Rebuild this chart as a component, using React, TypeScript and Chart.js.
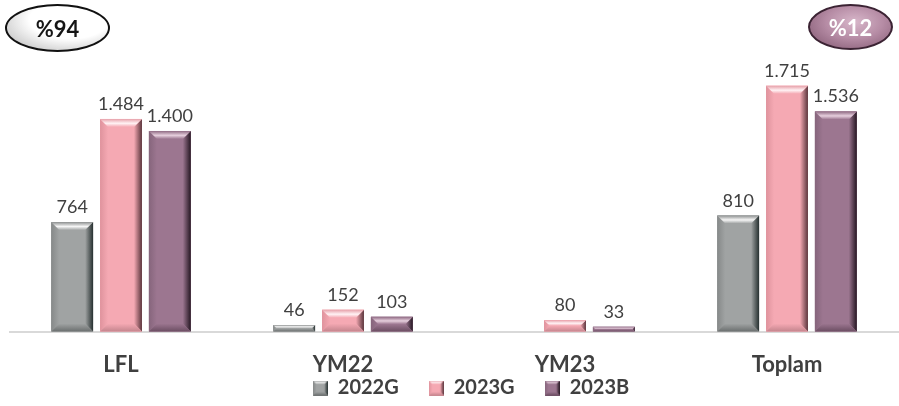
import React, { useEffect, useRef } from "react";
import { Chart, registerables } from "chart.js";
Chart.register(...registerables);

const categories = ["LFL", "YM22", "YM23", "Toplam"];
const seriesNames = ["2022G", "2023G", "2023B"];
const values2022G: (number | null)[] = [764, 46, null, 810];
const values2023G: (number | null)[] = [1484, 152, 80, 1715];
const values2023B: (number | null)[] = [1400, 103, 33, 1536];
const badgeLeftText = "%94";
const badgeRightText = "%12";

type Pal = { base: string; hi: string; topEdge: string; left: string; right: string; bottom: string };
const palettes: Pal[] = [
  { base: "#a0a3a3", hi: "#f6f6f6", topEdge: "#8e9191", left: "#868989", right: "#263030", bottom: "#6a6e6e" },
  { base: "#f5a9b3", hi: "#fff2f4", topEdge: "#e7a0a9", left: "#df939d", right: "#5a353c", bottom: "#c4848d" },
  { base: "#9c7690", hi: "#e6cfdd", topEdge: "#8e6982", left: "#86657c", right: "#251722", bottom: "#6b4d62" },
];

const FONT = "Lato, 'Open Sans', sans-serif";

function poly(ctx: CanvasRenderingContext2D, pts: number[][], fill: any) {
  ctx.beginPath();
  ctx.moveTo(pts[0][0], pts[0][1]);
  for (let i = 1; i < pts.length; i++) ctx.lineTo(pts[i][0], pts[i][1]);
  ctx.closePath();
  ctx.fillStyle = fill;
  ctx.fill();
}

function drawBevel(ctx: CanvasRenderingContext2D, L: number, T: number, R: number, B: number, p: Pal, bMax: number) {
  const w = R - L;
  const h = B - T;
  if (h <= 0 || w <= 0) return;
  const b = Math.max(1, Math.min(bMax, w / 4, h / 2));
  ctx.save();
  ctx.fillStyle = p.base;
  ctx.fillRect(L, T, w, h);
  let g = ctx.createLinearGradient(L, 0, L + b, 0);
  g.addColorStop(0, p.left);
  g.addColorStop(1, p.base);
  poly(ctx, [[L, T], [L + b, T + b], [L + b, B - b], [L, B]], g);
  g = ctx.createLinearGradient(R - b, 0, R, 0);
  g.addColorStop(0, p.base);
  g.addColorStop(1, p.right);
  poly(ctx, [[R, T], [R, B], [R - b, B - b], [R - b, T + b]], g);
  g = ctx.createLinearGradient(0, B - b, 0, B);
  g.addColorStop(0, p.base);
  g.addColorStop(1, p.bottom);
  poly(ctx, [[L, B], [L + b, B - b], [R - b, B - b], [R, B]], g);
  g = ctx.createLinearGradient(0, T, 0, T + b);
  g.addColorStop(0, p.topEdge);
  g.addColorStop(0.55, p.hi);
  g.addColorStop(1, p.base);
  poly(ctx, [[L, T], [R, T], [R - b, T + b], [L + b, T + b]], g);
  ctx.restore();
}

function fmt(v: number) {
  const s = String(Math.round(v));
  return s.replace(/\B(?=(\d{3})+(?!\d))/g, ".");
}

const bevelPlugin = {
  id: "bevel",
  afterDatasetsDraw(chart: any) {
    const ctx = chart.ctx;
    chart.data.datasets.forEach((ds: any, i: number) => {
      const meta = chart.getDatasetMeta(i);
      meta.data.forEach((el: any, j: number) => {
        const v = ds.data[j];
        if (v === null || v === undefined) return;
        const { x, y, base, width } = el.getProps(["x", "y", "base", "width"], true);
        drawBevel(ctx, x - width / 2, y, x + width / 2, base, palettes[i], 8);
      });
    });
    ctx.save();
    ctx.font = "18px " + FONT;
    ctx.fillStyle = "#404040";
    ctx.textAlign = "center";
    ctx.textBaseline = "alphabetic";
    chart.data.datasets.forEach((ds: any, i: number) => {
      const meta = chart.getDatasetMeta(i);
      meta.data.forEach((el: any, j: number) => {
        const v = ds.data[j];
        if (v === null || v === undefined) return;
        const { x, y } = el.getProps(["x", "y"], true);
        ctx.fillText(fmt(v), x, y - 9);
      });
    });
    ctx.restore();
  },
};

const legendPlace = {
  id: "legendPlace",
  afterLayout(chart: any) {
    const lg = chart.legend;
    if (lg) {
      lg.left += 17;
      lg.right += 17;
      lg.top = 348;
      lg.bottom = 406;
    }
  },
};

export default function App() {
  const ref = useRef<HTMLCanvasElement>(null);
  useEffect(() => {
    const icons = palettes.map((p) => {
      const c = document.createElement("canvas");
      c.width = 15;
      c.height = 15;
      drawBevel(c.getContext("2d") as CanvasRenderingContext2D, 0, 0, 15, 15, p, 5);
      return c;
    });
    const series = [values2022G, values2023G, values2023B];
    const chart = new Chart(ref.current as HTMLCanvasElement, {
      type: "bar",
      data: {
        labels: categories,
        datasets: series.map((d, i) => ({
          label: seriesNames[i],
          data: d,
          backgroundColor: palettes[i].base,
          borderWidth: 0,
          barPercentage: 0.857,
          categoryPercentage: 0.66,
        })),
      },
      options: {
        responsive: false,
        animation: false,
        devicePixelRatio: 1,
        layout: { padding: { top: 45, left: 10, right: 1, bottom: 0 } },
        plugins: {
          tooltip: { enabled: false },
          legend: {
            position: "bottom",
            maxHeight: 8,
            labels: {
              usePointStyle: true,
              boxWidth: 15,
              boxHeight: 15,
              pointStyleWidth: 15,
              padding: 30,
              color: "#404040",
              font: { family: FONT, size: 20, weight: "bold" },
              generateLabels: () =>
                seriesNames.map((t, i) => ({
                  text: t,
                  pointStyle: icons[i],
                  fillStyle: palettes[i].base,
                  strokeStyle: "transparent",
                  lineWidth: 0,
                  hidden: false,
                  datasetIndex: i,
                  fontColor: "#404040",
                })),
            },
          },
        },
        scales: {
          x: {
            grid: { display: false, drawTicks: false },
            border: { display: true, color: "#d9d9d9", width: 2 },
            ticks: {
              padding: 20,
              color: "#404040",
              font: { family: FONT, size: 22, weight: "bold" },
            },
          },
          y: { display: false, min: 0, max: 2000 },
        },
      } as any,
      plugins: [bevelPlugin, legendPlace],
    });
    return () => chart.destroy();
  }, []);

  return (
    <div style={{ position: "fixed", left: 0, top: 0, width: 899, height: 406, background: "#fff", overflow: "hidden" }}>
      <canvas ref={ref} width={899} height={406} style={{ display: "block", width: 899, height: 406 }} />
      <div
        style={{
          position: "absolute",
          left: 5,
          top: 4,
          width: 101,
          height: 44,
          borderRadius: "50%",
          border: "2px solid #111",
          background: "radial-gradient(ellipse at 62% 30%, #ffffff 0%, #ffffff 45%, #d4d4d4 75%, #8c8c8c 100%)",
          display: "flex",
          alignItems: "center",
          justifyContent: "center",
          fontFamily: FONT,
          fontWeight: "bold",
          fontSize: 22,
          color: "#151515",
        }}
      >
        {badgeLeftText}
      </div>
      <div
        style={{
          position: "absolute",
          left: 808,
          top: 4,
          width: 81,
          height: 42,
          borderRadius: "50%",
          border: "2px solid #3b2333",
          background: "radial-gradient(ellipse at 55% 38%, #d8b7ca 0%, #b68ca5 45%, #8c627b 85%, #5e3d52 100%)",
          display: "flex",
          alignItems: "center",
          justifyContent: "center",
          fontFamily: FONT,
          fontWeight: "bold",
          fontSize: 22,
          color: "#ffffff",
        }}
      >
        {badgeRightText}
      </div>
    </div>
  );
}
